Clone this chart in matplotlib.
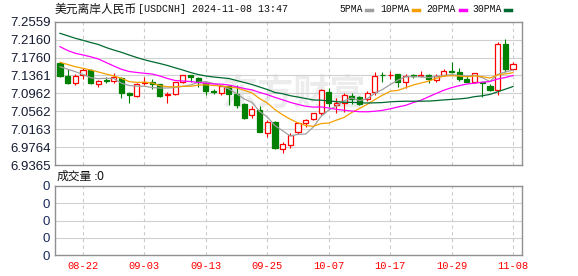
import matplotlib
matplotlib.use("Agg")
import matplotlib.pyplot as plt
import numpy as np
from matplotlib.lines import Line2D

# daily candles 08-19 .. 11-08
opens = [7.1645, 7.1349, 7.1199, 7.1378, 7.1482, 7.1170, 7.1259, 7.1244, 7.1311, 7.0963,
         7.0910, 7.1199, 7.1226, 7.1166, 7.0918, 7.0947, 7.1222, 7.1366, 7.1300, 7.1193,
         7.1021, 7.0976, 7.1115, 7.0952, 7.0729, 7.0479, 7.0602, 7.0085, 7.0330, 6.9715,
         6.9811, 7.0094, 7.0308, 7.0383, 7.0535, 7.0999, 7.0709, 7.0740, 7.0907, 7.0874,
         7.0829, 7.0999, 7.1378, 7.1360, 7.1393, 7.1222, 7.1360, 7.1349, 7.1371, 7.1259,
         7.1371, 7.1467, 7.1445, 7.1275, 7.1222, 7.1208, 7.1126, 7.1037, 7.2062, 7.1505]
highs = [7.1661, 7.1498, 7.1393, 7.1520, 7.1505, 7.1259, 7.1333, 7.1422, 7.1333, 7.0992,
         7.1186, 7.1320, 7.1271, 7.1170, 7.1003, 7.1226, 7.1378, 7.1382, 7.1326, 7.1222,
         7.1066, 7.1148, 7.1148, 7.1137, 7.0736, 7.0680, 7.0680, 7.0368, 7.0346, 6.9884,
         7.0085, 7.0330, 7.0401, 7.0535, 7.1048, 7.1081, 7.0852, 7.0970, 7.0963, 7.0903,
         7.1021, 7.1431, 7.1444, 7.1460, 7.1404, 7.1393, 7.1393, 7.1467, 7.1393, 7.1393,
         7.1498, 7.1667, 7.1520, 7.1349, 7.1422, 7.1222, 7.1170, 7.2107, 7.2167, 7.1667]
lows = [7.1320, 7.1180, 7.1155, 7.1282, 7.1164, 7.1097, 7.1199, 7.1199, 7.0852, 7.0740,
        7.0881, 7.1141, 7.1070, 7.0874, 7.0754, 7.0925, 7.1199, 7.1222, 7.1103, 7.0925,
        7.0947, 7.0925, 7.0702, 7.0635, 7.0390, 7.0406, 7.0100, 6.9982, 6.9715, 6.9643,
        6.9737, 7.0056, 7.0212, 7.0368, 7.0479, 7.0664, 7.0517, 7.0553, 7.0725, 7.0696,
        7.0798, 7.0925, 7.1222, 7.1275, 7.1110, 7.1075, 7.1311, 7.1333, 7.1186, 7.1222,
        7.1349, 7.1409, 7.1244, 7.1215, 7.1199, 7.0887, 7.1021, 7.0925, 7.1444, 7.1482]
closes = [7.1349, 7.1186, 7.1349, 7.1482, 7.1186, 7.1244, 7.1231, 7.1320, 7.0963, 7.0932,
          7.1164, 7.1222, 7.1177, 7.0903, 7.0943, 7.1208, 7.1364, 7.1320, 7.1208, 7.1021,
          7.0999, 7.1119, 7.0947, 7.0702, 7.0412, 7.0624, 7.0107, 7.0330, 6.9737, 6.9844,
          7.0034, 7.0294, 7.0368, 7.0517, 7.1030, 7.0740, 7.0753, 7.0936, 7.0840, 7.0725,
          7.0963, 7.1355, 7.1360, 7.1378, 7.1222, 7.1349, 7.1349, 7.1366, 7.1275, 7.1349,
          7.1460, 7.1449, 7.1275, 7.1222, 7.1409, 7.1193, 7.1037, 7.2062, 7.1498, 7.1616]
volumes = [0] * 60

# MA values at the left edge (history before the window is not on the chart)
ma5_lead = [7.1556, 7.1500, 7.1445, 7.1382]
ma10_lead = [7.1654, 7.1605, 7.1556, 7.1520, 7.1482, 7.1438, 7.1393, 7.1349, 7.1297]
ma20_lead = [7.2002, 7.1917, 7.1855, 7.1817, 7.1777, 7.1728, 7.1650, 7.1572, 7.1498, 7.1449,
             7.1427, 7.1409, 7.1393, 7.1349, 7.1293, 7.1248, 7.1237, 7.1226, 7.1204]
ma30_lead = [7.2300, 7.2245, 7.2189, 7.2144, 7.2095, 7.2051, 7.1984, 7.1928, 7.1877, 7.1817,
             7.1761, 7.1710, 7.1667, 7.1627, 7.1583, 7.1531, 7.1482, 7.1427, 7.1382, 7.1349,
             7.1326, 7.1309, 7.1293, 7.1248, 7.1204, 7.1159, 7.1103, 7.1048, 7.0981]

price_ticks = [7.2559, 7.2160, 7.1760, 7.1361, 7.0962, 7.0562, 7.0163, 6.9764, 6.9365]
date_idx = [3, 11, 19, 27, 35, 43, 51, 59]
date_labels = ["08-22", "09-03", "09-13", "09-25", "10-07", "10-17", "10-29", "11-08"]

ma_names = ["5PMA", "10PMA", "20PMA", "30PMA"]
ma_colors = ["#a0a0a0", "#f5a000", "#ff00ff", "#006a30"]


def moving(n, lead):
    c = np.array(closes)
    out = list(lead)
    for i in range(len(lead), len(c)):
        out.append(c[i - n + 1:i + 1].mean())
    return out


W, H = 578, 276
fig = plt.figure(figsize=(W / 100, H / 100), dpi=100)
ax = fig.add_axes([55 / W, 1 - 165 / H, 467 / W, 143.3 / H])
axv = fig.add_axes([55 / W, 1 - 255 / H, 467 / W, 69 / H])

x = np.arange(len(closes))
xl = (-0.65, 60.17)

# watermark
ax.text(30.5, 7.095, "东方财富", fontsize=26, color="#ececec", ha="center", va="center",
        family=["Noto Sans CJK SC"], fontweight="bold", zorder=0)

o = np.array(opens)
c = np.array(closes)
up = c >= o
ax.vlines(x[up], np.array(lows)[up], np.array(highs)[up], color="#ff0000", lw=0.8, zorder=2)
ax.vlines(x[~up], np.array(lows)[~up], np.array(highs)[~up], color="#008000", lw=0.8, zorder=2)
ax.bar(x[up], (c - o)[up], bottom=o[up], width=0.66, facecolor="white", edgecolor="#ff0000",
       linewidth=0.9, zorder=3)
ax.bar(x[~up], (c - o)[~up], bottom=o[~up], width=0.66, facecolor="#008000", edgecolor="#008000",
       linewidth=0.9, zorder=3)

mas = [moving(5, ma5_lead), moving(10, ma10_lead), moving(20, ma20_lead), moving(30, ma30_lead)]
for m, col in zip(mas, ma_colors):
    ax.plot(x, m, color=col, lw=0.9, zorder=4)

ax.set_xlim(*xl)
ax.set_ylim(price_ticks[-1], price_ticks[0])
ax.set_yticks(price_ticks)
ax.set_yticklabels(["%.4f" % v for v in price_ticks], family="Liberation Sans", fontsize=9.5,
                   color="#141a30")
ax.set_xticks(date_idx)
ax.set_xticklabels([])
ax.tick_params(length=0, pad=3)
for t in price_ticks[1:-1]:
    ax.axhline(t, color="#d0d0d0", lw=0.8, zorder=1)
for d in date_idx:
    ax.axvline(d, color="#cccccc", lw=0.8, ls=(0, (3, 3)), zorder=1)

axv.bar(x, volumes, width=0.66, color="#008000")
axv.set_xlim(*xl)
axv.set_ylim(0, 1)
axv.set_yticks([0, 0.25, 0.5, 0.75, 1])
axv.set_yticklabels(["0"] * 5, family="Liberation Sans", fontsize=9.5, color="#1a2a5a")
axv.set_xticks(date_idx)
axv.set_xticklabels(date_labels, family="Liberation Mono", fontsize=7.5, color="#ff0000")
axv.tick_params(length=0, pad=4)
for t in [0.25, 0.5, 0.75]:
    axv.axhline(t, color="#d0d0d0", lw=0.8, zorder=1)
for d in date_idx:
    axv.axvline(d, color="#cccccc", lw=0.8, ls=(0, (3, 3)), zorder=1)

for a in [ax, axv]:
    for s in a.spines.values():
        s.set_color("#909090")
        s.set_linewidth(1.0)

# title: CJK part and latin part set separately to get the widths right
fig.text(55 / W, 1 - 9 / H, "美元离岸人民币", family=["Noto Sans CJK SC"], fontsize=8.5,
         va="center", ha="left", color="#111111")
fig.text(138 / W, 1 - 9 / H, "[USDCNH] 2024-11-08 13:47", family="Liberation Mono", fontsize=7.2,
         va="center", ha="left", color="#111111")
fig.text(57 / W, 1 - 176.5 / H, "成交量", family=["Noto Sans CJK SC"], fontsize=8.5, va="center",
         ha="left", color="#111111")
fig.text(93.5 / W, 1 - 176.5 / H, ":0", family="DejaVu Sans", fontsize=8.3, va="center",
         ha="left", color="#111111")

# legend
lx = [339, 380, 426, 472]
bx = [366, 413, 460, 505]
for name, col, tx, b in zip(ma_names, ma_colors, lx, bx):
    fig.text(tx / W, 1 - 9 / H, name, family="Liberation Mono", fontsize=7, va="center",
             ha="left", color="#111111")
    fig.add_artist(Line2D([b / W, (b + 6) / W], [1 - 9.5 / H, 1 - 9.5 / H], color=col, lw=2.5,
                          transform=fig.transFigure))

fig.savefig("out.png", dpi=100)
